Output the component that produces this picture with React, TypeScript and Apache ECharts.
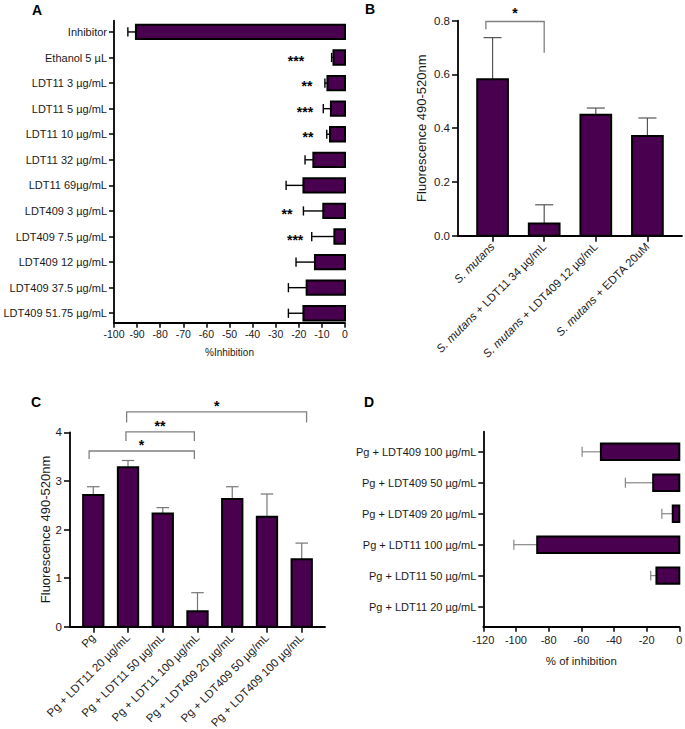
import React, { useEffect, useRef } from 'react';
import * as echarts from 'echarts';

// ---------- Panel A ----------
const catsA = [
  'Inhibitor', 'Ethanol 5 µL', 'LDT11 3 µg/mL', 'LDT11 5 µg/mL', 'LDT11 10 µg/mL', 'LDT11 32 µg/mL',
  'LDT11 69µg/mL', 'LDT409 3 µg/mL', 'LDT409 7.5 µg/mL', 'LDT409 12 µg/mL', 'LDT409 37.5 µg/mL', 'LDT409 51.75 µg/mL',
];
const valsA = [-90.5, -5, -7.6, -6.1, -6.5, -13.7, -18, -9.4, -4.6, -13, -16.6, -18];
const errA = [3.5, 0.8, 1.1, 3.3, 1.4, 3.6, 7.5, 8.6, 9.8, 8.2, 7.9, 6.5];
const starsA = [
  { cat: 'Ethanol 5 µL', text: '***', x: -21.2 },
  { cat: 'LDT11 3 µg/mL', text: '**', x: -16.5 },
  { cat: 'LDT11 5 µg/mL', text: '***', x: -17.3 },
  { cat: 'LDT11 10 µg/mL', text: '**', x: -16 },
  { cat: 'LDT409 3 µg/mL', text: '**', x: -25.1 },
  { cat: 'LDT409 7.5 µg/mL', text: '***', x: -21.6 },
];
const ticksA = [-100, -90, -80, -70, -60, -50, -40, -30, -20, -10, 0];

// ---------- Panel B ----------
const catsB = ['S. mutans', 'S. mutans + LDT11 34 µg/mL', 'S. mutans + LDT409 12 µg/mL', 'S. mutans + EDTA 20uM'];
const valsB = [0.582, 0.045, 0.45, 0.371];
const errB = [0.155, 0.07, 0.025, 0.067];
const bracketsB = [{ from: -0.13, to: 1.0, top: 0.797, leftEnd: 0.768, rightEnd: 0.681, text: '*', tx: 0.435, ty: 0.838 }];

// ---------- Panel C ----------
const catsC = [
  'Pg', 'Pg + LDT11 20 µg/mL', 'Pg + LDT11 50 µg/mL', 'Pg + LDT11 100 µg/mL',
  'Pg + LDT409 20 µg/mL', 'Pg + LDT409 50 µg/mL', 'Pg + LDT409 100 µg/mL',
];
const valsC = [2.71, 3.28, 2.33, 0.32, 2.63, 2.26, 1.39];
const errC = [0.17, 0.14, 0.12, 0.38, 0.25, 0.47, 0.33];
const bracketsC = [
  { from: -0.12, to: 2.91, top: 3.615, leftEnd: 3.45, rightEnd: 3.45, text: '*', tx: 1.39, ty: 3.81 },
  { from: 0.94, to: 2.91, top: 4.01, leftEnd: 3.82, rightEnd: 3.82, text: '**', tx: 1.92, ty: 4.2 },
  { from: 0.96, to: 6.14, top: 4.42, leftEnd: 4.2, rightEnd: 4.2, text: '*', tx: 3.55, ty: 4.61 },
];

// ---------- Panel D ----------
const catsD = [
  'Pg + LDT409 100 µg/mL', 'Pg + LDT409 50 µg/mL', 'Pg + LDT409 20 µg/mL',
  'Pg + LDT11 100 µg/mL', 'Pg + LDT11 50 µg/mL', 'Pg + LDT11 20 µg/mL',
];
const valsD = [-48, -16, -4, -87, -14, 0];
const errD = [11.5, 17, 6.7, 14.3, 3.5, 0];

const FONT = "'Liberation Sans', Arial, Helvetica, sans-serif";
const PURPLE = '#48004F';
const TXT = '#1a1a1a';

const hBar = (errColor: string, errW: number, barFrac: number, capFrac: number) => (params: any, api: any) => {
  const v = api.value(0);
  const i = api.value(1);
  const e = api.value(2);
  if (!v) return { type: 'group', children: [] };
  const band = api.size([0, 1])[1];
  const h = band * barFrac;
  const p0 = api.coord([0, i]);
  const p1 = api.coord([v, i]);
  const pe = api.coord([v - e, i]);
  const cap = band * capFrac;
  return {
    type: 'group',
    children: [
      { type: 'line', shape: { x1: pe[0], y1: p1[1], x2: p1[0], y2: p1[1] }, style: { stroke: errColor, lineWidth: errW } },
      { type: 'line', shape: { x1: pe[0], y1: p1[1] - cap / 2, x2: pe[0], y2: p1[1] + cap / 2 }, style: { stroke: errColor, lineWidth: errW } },
      { type: 'rect', shape: { x: p1[0], y: p1[1] - h / 2, width: p0[0] - p1[0], height: h }, style: { fill: PURPLE, stroke: '#000', lineWidth: 2 } },
    ],
  };
};

const vBar = (errColor: string, errW: number, barFrac: number, capFrac: number) => (params: any, api: any) => {
  const x = api.value(0);
  const v = api.value(1);
  const e = api.value(2);
  const band = api.size([1, 0])[0];
  const w = band * barFrac;
  const p0 = api.coord([x, 0]);
  const p1 = api.coord([x, v]);
  const pe = api.coord([x, v + e]);
  const cap = band * capFrac;
  return {
    type: 'group',
    children: [
      { type: 'line', shape: { x1: p1[0], y1: pe[1], x2: p1[0], y2: p1[1] }, style: { stroke: errColor, lineWidth: errW } },
      { type: 'line', shape: { x1: p1[0] - cap / 2, y1: pe[1], x2: p1[0] + cap / 2, y2: pe[1] }, style: { stroke: errColor, lineWidth: errW } },
      { type: 'rect', shape: { x: p1[0] - w / 2, y: p1[1], width: w, height: p0[1] - p1[1] }, style: { fill: PURPLE, stroke: '#000', lineWidth: 2 } },
    ],
  };
};

const bracketItem = (params: any, api: any) => {
  const a = api.coord([api.value(0), api.value(3)]);
  const b = api.coord([api.value(0), api.value(2)]);
  const c = api.coord([api.value(1), api.value(2)]);
  const d = api.coord([api.value(1), api.value(4)]);
  return { type: 'polyline', shape: { points: [a, b, c, d] }, style: { stroke: '#808080', lineWidth: 1.3, fill: 'none' } };
};

const starItem = (texts: string[]) => (params: any, api: any) => {
  const p = api.coord([api.value(0), api.value(1)]);
  return {
    type: 'text',
    x: p[0],
    y: p[1] + 3,
    style: { text: texts[params.dataIndex], fontSize: 14, fontWeight: 'bold', fontFamily: FONT, fill: '#000', align: 'center', verticalAlign: 'middle' },
  };
};

const axisLine = { onZero: false, lineStyle: { color: '#000', width: 1.8 } };
const axisTick = (len: number, extra: any = {}) => ({ show: true, length: len, lineStyle: { color: '#000', width: 1.5 }, ...extra });
const lab = (extra: any = {}) => ({ color: TXT, fontFamily: FONT, fontSize: 11, ...extra });
const nameStyle = { color: TXT, fontFamily: FONT, fontSize: 11 };

const idxA = catsA.map((_, k) => k);
const idxB = catsB.map((_, k) => k);
const idxC = catsC.map((_, k) => k);
const idxD = catsD.map((_, k) => k);

const bLabel = (v: number) => {
  const s = catsB[Math.round(v)] || '';
  const rest = s.replace('S. mutans', '');
  return '{i|S. mutans}' + (rest ? '{n|' + rest + '}' : '');
};

const option: any = {
  animation: false,
  backgroundColor: '#fff',
  textStyle: { fontFamily: FONT },
  grid: [
    { left: 114, top: 20.7, width: 231, height: 302, outerBoundsMode: 'none' },
    { left: 458, top: 20.7, width: 224, height: 215, outerBoundsMode: 'none' },
    { left: 70, top: 432.3, width: 255, height: 194.4, outerBoundsMode: 'none' },
    { left: 483.3, top: 431.7, width: 196, height: 195, outerBoundsMode: 'none' },
  ],
  xAxis: [
    {
      gridIndex: 0, type: 'value', min: ticksA[0], max: ticksA[ticksA.length - 1], interval: 10,
      axisLine, axisTick: axisTick(5), axisLabel: lab({ margin: 6, fontSize: 10.5 }), splitLine: { show: false },
      name: '%Inhibition', nameLocation: 'middle', nameGap: 25, nameTextStyle: { ...nameStyle, fontSize: 10 },
    },
    {
      gridIndex: 1, type: 'value', min: -0.67, max: catsB.length - 1 + 0.67,
      axisLine, axisTick: axisTick(6, { customValues: idxB }), splitLine: { show: false },
      axisLabel: lab({
        customValues: idxB, rotate: 45, margin: 9, formatter: bLabel,
        rich: {
          i: { fontStyle: 'italic', fontSize: 11.5, fontFamily: FONT, color: TXT },
          n: { fontSize: 11.5, fontFamily: FONT, color: TXT },
        },
      }),
    },
    {
      gridIndex: 2, type: 'value', min: -0.67, max: catsC.length - 1 + 0.67,
      axisLine, axisTick: axisTick(6, { customValues: idxC }), splitLine: { show: false },
      axisLabel: lab({ customValues: idxC, rotate: 45, margin: 9, fontSize: 11.5, formatter: (v: number) => catsC[Math.round(v)] || '' }),
    },
    {
      gridIndex: 3, type: 'value', min: -120, max: 0, interval: 20,
      axisLine, axisTick: axisTick(5), axisLabel: lab({ margin: 8 }), splitLine: { show: false },
      name: '% of inhibition', nameLocation: 'middle', nameGap: 28.5, nameTextStyle: { ...nameStyle, fontSize: 11.4 },
    },
  ],
  yAxis: [
    {
      gridIndex: 0, type: 'value', min: -0.37, max: catsA.length - 1 + 0.44,
      axisLine, axisTick: axisTick(5, { customValues: idxA }), splitLine: { show: false },
      axisLabel: lab({ customValues: idxA, margin: 7, formatter: (v: number) => catsA[catsA.length - 1 - Math.round(v)] || '' }),
    },
    {
      gridIndex: 1, type: 'value', min: 0, max: 0.8, interval: 0.2,
      axisLine, axisTick: axisTick(6), splitLine: { show: false },
      axisLabel: lab({ margin: 8, fontSize: 11.5, formatter: (v: number) => v.toFixed(1) }),
      name: 'Fluorescence 490-520nm', nameLocation: 'middle', nameGap: 30, nameTextStyle: { ...nameStyle, fontSize: 13 },
    },
    {
      gridIndex: 2, type: 'value', min: 0, max: 4, interval: 1,
      axisLine, axisTick: axisTick(6), splitLine: { show: false },
      axisLabel: lab({ margin: 8, fontSize: 11.5 }),
      name: 'Fluorescence 490-520nm', nameLocation: 'middle', nameGap: 18.5, nameTextStyle: { ...nameStyle, fontSize: 13 },
    },
    {
      gridIndex: 3, type: 'value', min: -0.65, max: catsD.length - 1 + 0.65,
      axisLine, axisTick: axisTick(5, { customValues: idxD }), splitLine: { show: false },
      axisLabel: lab({ customValues: idxD, margin: 7, formatter: (v: number) => catsD[catsD.length - 1 - Math.round(v)] || '' }),
    },
  ],
  series: [
    {
      type: 'custom', name: 'A', xAxisIndex: 0, yAxisIndex: 0, encode: { x: 0, y: 1 },
      renderItem: hBar('#000', 1.4, 0.56, 0.36),
      data: catsA.map((_, k) => [valsA[k], catsA.length - 1 - k, errA[k]]),
    },
    {
      type: 'custom', name: 'A stars', xAxisIndex: 0, yAxisIndex: 0, encode: { x: 0, y: 1 },
      renderItem: starItem(starsA.map((s) => s.text)),
      data: starsA.map((s) => [s.x, catsA.length - 1 - catsA.indexOf(s.cat)]),
    },
    {
      type: 'custom', name: 'B', xAxisIndex: 1, yAxisIndex: 1, encode: { x: 0, y: 1 },
      renderItem: vBar('#555', 1.2, 0.595, 0.35),
      data: catsB.map((_, k) => [k, valsB[k], errB[k]]),
    },
    {
      type: 'custom', name: 'B brackets', xAxisIndex: 1, yAxisIndex: 1, encode: { x: [0, 1], y: [2, 3, 4] },
      renderItem: bracketItem,
      data: bracketsB.map((b) => [b.from, b.to, b.top, b.leftEnd, b.rightEnd]),
    },
    {
      type: 'custom', name: 'B stars', xAxisIndex: 1, yAxisIndex: 1, encode: { x: 0, y: 1 },
      renderItem: starItem(bracketsB.map((b) => b.text)),
      data: bracketsB.map((b) => [b.tx, b.ty]),
    },
    {
      type: 'custom', name: 'C', xAxisIndex: 2, yAxisIndex: 2, encode: { x: 0, y: 1 },
      renderItem: vBar('#777', 1.2, 0.585, 0.36),
      data: catsC.map((_, k) => [k, valsC[k], errC[k]]),
    },
    {
      type: 'custom', name: 'C brackets', xAxisIndex: 2, yAxisIndex: 2, encode: { x: [0, 1], y: [2, 3, 4] },
      renderItem: bracketItem,
      data: bracketsC.map((b) => [b.from, b.to, b.top, b.leftEnd, b.rightEnd]),
    },
    {
      type: 'custom', name: 'C stars', xAxisIndex: 2, yAxisIndex: 2, encode: { x: 0, y: 1 },
      renderItem: starItem(bracketsC.map((b) => b.text)),
      data: bracketsC.map((b) => [b.tx, b.ty]),
    },
    {
      type: 'custom', name: 'D', xAxisIndex: 3, yAxisIndex: 3, encode: { x: 0, y: 1 },
      renderItem: hBar('#888', 1.2, 0.53, 0.32),
      data: catsD.map((_, k) => [valsD[k], catsD.length - 1 - k, errD[k]]),
    },
  ],
  graphic: [
    { type: 'text', left: 32, top: 3, style: { text: 'A', fontSize: 14, fontWeight: 'bold', fontFamily: FONT, fill: '#000' } },
    { type: 'text', left: 365, top: 2, style: { text: 'B', fontSize: 14, fontWeight: 'bold', fontFamily: FONT, fill: '#000' } },
    { type: 'text', left: 31, top: 395, style: { text: 'C', fontSize: 14, fontWeight: 'bold', fontFamily: FONT, fill: '#000' } },
    { type: 'text', left: 364, top: 395, style: { text: 'D', fontSize: 14, fontWeight: 'bold', fontFamily: FONT, fill: '#000' } },
  ],
};

export default function App() {
  const ref = useRef<HTMLDivElement>(null);
  useEffect(() => {
    if (!ref.current) return;
    const chart = echarts.init(ref.current, null, { renderer: 'svg' });
    chart.setOption(option);
    return () => chart.dispose();
  }, []);
  return (
    <div
      ref={ref}
      style={{ position: 'absolute', left: 0, top: 0, width: 685, height: 729, background: '#fff' }}
    />
  );
}
